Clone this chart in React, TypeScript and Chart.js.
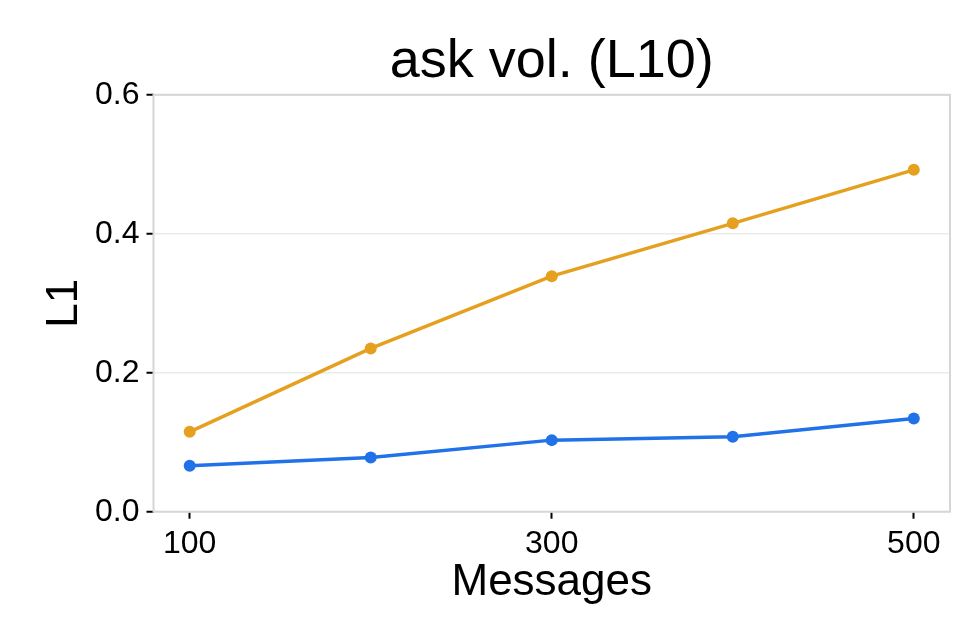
import { useEffect, useRef } from 'react'
import { Chart, registerables } from 'chart.js'

Chart.register(...registerables)

const messages = [100, 200, 300, 400, 500]
const upperSeries = [0.115, 0.235, 0.339, 0.415, 0.492]
const lowerSeries = [0.066, 0.078, 0.103, 0.108, 0.134]
const xTicks = [100, 300, 500]
const yTicks = [0, 0.2, 0.4, 0.6]

const FONT = '"Liberation Sans", Arial, Helvetica, sans-serif'

// grey panel border round the plot area
const panelBorder = {
  id: 'panelBorder',
  afterDatasetsDraw(chart: Chart) {
    const { ctx, chartArea } = chart
    ctx.save()
    ctx.strokeStyle = '#d6d6d6'
    ctx.lineWidth = 2
    ctx.strokeRect(chartArea.left, chartArea.top, chartArea.right - chartArea.left, chartArea.bottom - chartArea.top)
    ctx.restore()
  },
}

const App = () => {
  const canvas = useRef<HTMLCanvasElement>(null)

  useEffect(() => {
    if (!canvas.current) return
    const chart = new Chart(canvas.current, {
      type: 'line',
      data: {
        datasets: [
          {
            data: messages.map((m, i) => ({ x: m, y: upperSeries[i] })),
            borderColor: '#E6A020',
            backgroundColor: '#E6A020',
            borderWidth: 3.5,
            pointRadius: 6,
            pointBorderWidth: 0,
          },
          {
            data: messages.map((m, i) => ({ x: m, y: lowerSeries[i] })),
            borderColor: '#2172E8',
            backgroundColor: '#2172E8',
            borderWidth: 3.5,
            pointRadius: 6,
            pointBorderWidth: 0,
          },
        ],
      },
      options: {
        animation: false,
        responsive: true,
        maintainAspectRatio: false,
        layout: { padding: { left: 0, right: 10, top: 0, bottom: 0 } },
        plugins: {
          legend: { display: false },
          tooltip: { enabled: false },
          title: {
            display: true,
            text: 'ask vol. (L10)',
            color: '#000',
            fullSize: false,
            font: { family: FONT, size: 54, weight: 'normal' },
            padding: { top: 30, bottom: 0 },
          },
        },
        scales: {
          x: {
            type: 'linear',
            min: 80,
            max: 520,
            afterBuildTicks: (axis: any) => {
              axis.ticks = xTicks.map((v) => ({ value: v }))
            },
            afterFit: (axis: any) => {
              axis.height = 128.3
            },
            grid: {
              drawOnChartArea: false,
              drawTicks: true,
              tickLength: 7,
              tickColor: '#000',
              tickWidth: 2,
            },
            border: { display: false },
            ticks: {
              color: '#000',
              padding: 6,
              maxRotation: 0,
              font: { family: FONT, size: 32 },
            },
            title: {
              display: true,
              text: 'Messages',
              color: '#000',
              font: { family: FONT, size: 44 },
              padding: { top: 0, bottom: 31 },
            },
          },
          y: {
            min: 0,
            max: 0.6,
            afterBuildTicks: (axis: any) => {
              axis.ticks = yTicks.map((v) => ({ value: v }))
            },
            afterFit: (axis: any) => {
              axis.width = 153.5
            },
            grid: {
              color: '#ebebeb',
              lineWidth: 1.5,
              drawTicks: true,
              tickLength: 7,
              tickColor: '#000',
              tickWidth: 2,
            },
            border: { display: false },
            ticks: {
              color: '#000',
              padding: 7,
              font: { family: FONT, size: 32 },
              callback: (v: any) => Number(v).toFixed(1),
            },
            title: {
              display: true,
              text: 'L1',
              color: '#000',
              font: { family: FONT, size: 44 },
              padding: { top: 38, bottom: 0 },
            },
          },
        },
      },
      plugins: [panelBorder],
    })

    return () => {
      chart.destroy()
    }
  }, [])

  return (
    <div style={{ position: 'fixed', left: 0, top: 0, width: 960, height: 640, background: '#fff' }}>
      <canvas ref={canvas} />
    </div>
  )
}

export default App
